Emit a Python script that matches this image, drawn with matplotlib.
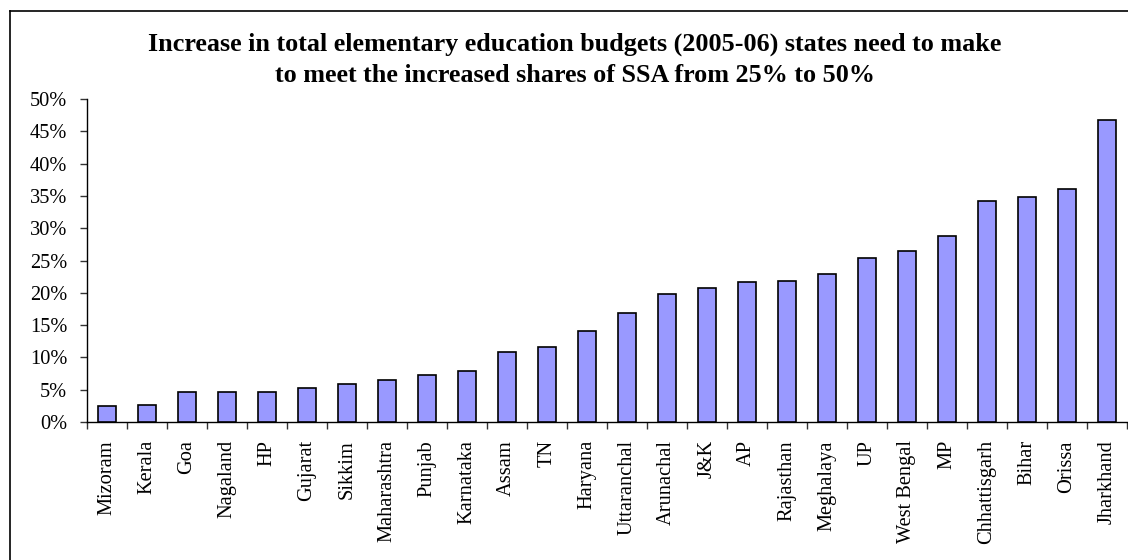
import matplotlib
matplotlib.use("Agg")
import matplotlib.pyplot as plt
from matplotlib.ticker import FuncFormatter, MultipleLocator, FixedLocator
from matplotlib.lines import Line2D

plt.rcParams['font.family'] = ['Liberation Serif', 'DejaVu Serif']

states = ["Mizoram", "Kerala", "Goa", "Nagaland", "HP", "Gujarat", "Sikkim",
          "Maharashtra", "Punjab", "Karnataka", "Assam", "TN", "Haryana",
          "Uttaranchal", "Arunachal", "J&K", "AP", "Rajasthan", "Meghalaya",
          "UP", "West Bengal", "MP", "Chhattisgarh", "Bihar", "Orissa",
          "Jharkhand"]
increase_pct = [2.5, 2.7, 4.6, 4.6, 4.6, 5.2, 5.9, 6.5, 7.3, 7.9, 10.8, 11.6,
                14.1, 16.8, 19.8, 20.8, 21.6, 21.8, 22.9, 25.4, 26.4, 28.8,
                34.2, 34.8, 36.1, 46.7]
title_lines = ["Increase in total elementary education budgets (2005-06) states need to make",
               "to meet the increased shares of SSA from 25% to 50%"]

W, H = 1128, 560
fig = plt.figure(figsize=(W / 100, H / 100), dpi=100)
ax = fig.add_axes([86.7 / W, 1 - 422 / H, (1126.7 - 86.7) / W, (422 - 99) / H])

x = range(len(states))
ax.bar(x, increase_pct, width=0.45, color="#9999FF", edgecolor="black",
       linewidth=1.2, zorder=3)

ax.set_xlim(-0.5, len(states) - 0.5)
ax.set_ylim(0, 50)
ax.yaxis.set_major_locator(MultipleLocator(5))
ax.yaxis.set_major_formatter(FuncFormatter(lambda v, _: f"{v:.0f}%"))

ax.set_xticks(list(x))
ax.set_xticklabels(states, rotation=90, fontsize=14.7)
ax.xaxis.set_minor_locator(FixedLocator([i - 0.5 for i in range(len(states) + 1)]))
ax.tick_params(axis="x", which="major", length=0, pad=13)
ax.tick_params(axis="x", which="minor", length=5, width=1, color="#333333")
ax.tick_params(axis="y", which="major", length=5, width=1, pad=9,
               labelsize=14.7, color="#333333")

for side in ("top", "right"):
    ax.spines[side].set_visible(False)
for side in ("left", "bottom"):
    ax.spines[side].set_linewidth(1.0)
    ax.spines[side].set_color("black")

for k, line in enumerate(title_lines):
    fig.text(575 / W, 1 - (44 + 31 * k) / H, line, ha="center", va="center",
             fontsize=18.8, fontweight="bold")

# Chart frame
fig.add_artist(Line2D([9.5 / W, 9.5 / W], [0, 1 - 10.5 / H],
                      transform=fig.transFigure, color="black", lw=1.2))
fig.add_artist(Line2D([9.5 / W, 1], [1 - 10.5 / H, 1 - 10.5 / H],
                      transform=fig.transFigure, color="black", lw=1.2))

fig.savefig("out.png", dpi=100)
